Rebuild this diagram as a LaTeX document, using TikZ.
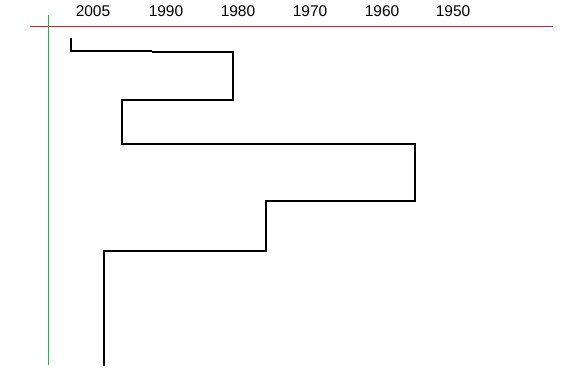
\documentclass[tikz,border=0pt]{standalone}
\usepackage{fontspec}
\setmainfont{Liberation Sans}
\begin{document}
\begin{tikzpicture}[x=1pt,y=-1pt,
  yearlabel/.style={inner sep=0pt,font=\fontsize{15.5}{18}\selectfont},
  axisx/.style={draw={rgb,255:red,220;green,30;blue,30},line width=1pt},
  axisy/.style={draw={rgb,255:red,20;green,190;blue,60},line width=1pt},
  stepline/.style={draw=black,line width=1.2pt}]
\useasboundingbox (0,0) rectangle (569,379);
% axes
\coordinate (xl) at (30,27);
\coordinate (xr) at (553,27);
\coordinate (yt) at (48,15);
\coordinate (yb) at (48,365);
\draw[axisx] (xl) -- (xr);
\draw[axisy] (yt) -- (yb);
% year labels
\node[yearlabel] (y2005) at (93,11) {2005};
\node[yearlabel] (y1990) at (166,11) {1990};
\node[yearlabel] (y1980) at (238,11) {1980};
\node[yearlabel] (y1970) at (310,11) {1970};
\node[yearlabel] (y1960) at (382,11) {1960};
\node[yearlabel] (y1950) at (453,11) {1950};
% step path
\coordinate (p0) at (71,38);
\coordinate (p1) at (71,51);
\coordinate (p2) at (152,51);
\coordinate (p3) at (152,52);
\coordinate (p4) at (233,52);
\coordinate (p5) at (233,100);
\coordinate (p6) at (122,100);
\coordinate (p7) at (122,144);
\coordinate (p8) at (415,144);
\coordinate (p9) at (415,201);
\coordinate (p10) at (266,201);
\coordinate (p11) at (266,251);
\coordinate (p12) at (104,251);
\coordinate (p13) at (104,366);
\draw[stepline] (p0) -- (p1) -- (p2);
\draw[stepline] (p3) -- (p4) -- (p5) -- (p6) -- (p7) -- (p8) -- (p9) -- (p10) -- (p11) -- (p12) -- (p13);
\end{tikzpicture}
\end{document}
